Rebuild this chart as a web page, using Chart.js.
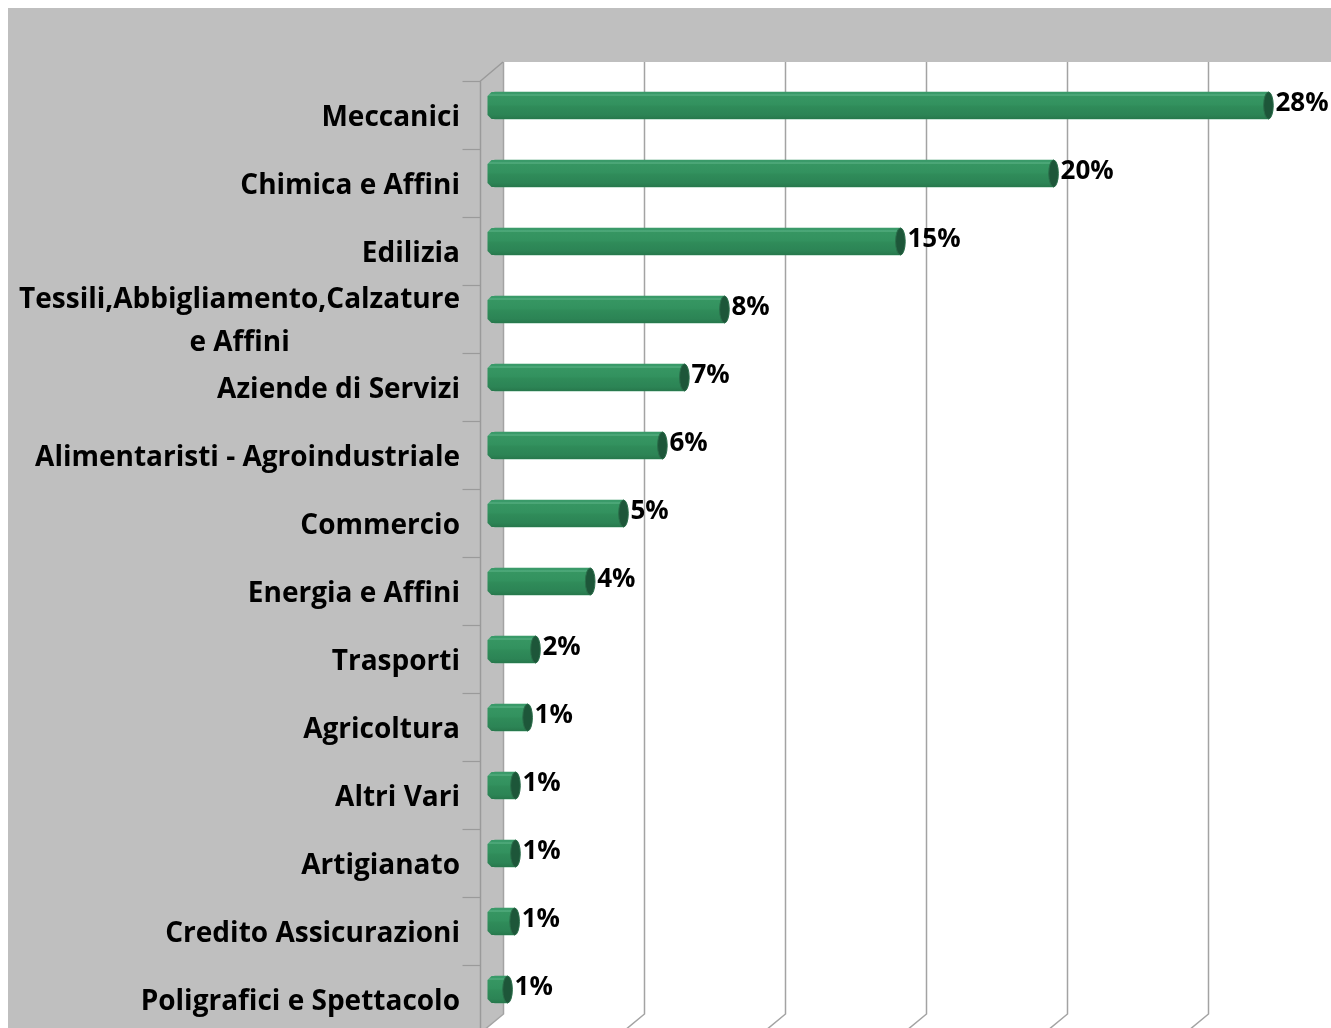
<!DOCTYPE html>
<html><head><meta charset="utf-8">
<script src="https://cdn.jsdelivr.net/npm/chart.js@4.4.1/dist/chart.umd.min.js"></script>
<style>html,body{margin:0;padding:0;background:#fff}#wrap{width:1331px;height:1028px;position:relative}</style>
</head><body><div id="wrap"><canvas id="c" width="1331" height="1028"></canvas></div>
<script>
const categories = [["Meccanici"], ["Chimica e Affini"], ["Edilizia"], ["Tessili,Abbigliamento,Calzature", "e Affini"], ["Aziende di Servizi"], ["Alimentaristi - Agroindustriale"], ["Commercio"], ["Energia e Affini"], ["Trasporti"], ["Agricoltura"], ["Altri Vari"], ["Artigianato"], ["Credito Assicurazioni"], ["Poligrafici e Spettacolo"]];
const shares = [27.55, 19.93, 14.5, 8.26, 6.84, 6.06, 4.68, 3.5, 1.56, 1.28, 0.85, 0.85, 0.82, 0.57];
const shareLabels = ["28%", "20%", "15%", "8%", "7%", "6%", "5%", "4%", "2%", "1%", "1%", "1%", "1%", "1%"];
const gridValues = [0, 5, 10, 15, 20, 25];

const W = 1331, H = 1028;
const DX = 23, DY = 19;          // depth: back wall -> front plane
const BX = -11.5, BY = 9.5;      // bars sit mid-depth
const FONT = '"Open Sans", Lato, sans-serif';

function barGradient(ctx, yc, h) {
  const g = ctx.createLinearGradient(0, yc - h / 2, 0, yc + h / 2);
  g.addColorStop(0, '#3a9a69');
  g.addColorStop(0.08, '#3a9a69');
  g.addColorStop(0.11, '#5fb58a');
  g.addColorStop(0.15, '#369662');
  g.addColorStop(0.45, '#33925f');
  g.addColorStop(0.55, '#2f8b59');
  g.addColorStop(0.85, '#2c8455');
  g.addColorStop(1, '#27784c');
  return g;
}

const deco = {
  id: 'deco',
  beforeDraw(chart) {
    const ctx = chart.ctx, a = chart.chartArea, xs = chart.scales.x, ys = chart.scales.y;
    ctx.save();
    ctx.fillStyle = '#ffffff'; ctx.fillRect(0, 0, W, H);
    ctx.fillStyle = '#bfbfbf'; ctx.fillRect(8, 8, W - 8, H - 8);
    // back wall
    ctx.fillStyle = '#ffffff'; ctx.fillRect(a.left, a.top, W - a.left, a.bottom - a.top);
    // floor
    const fl = a.left - (H - a.bottom) * DX / DY;
    ctx.beginPath(); ctx.moveTo(a.left, a.bottom); ctx.lineTo(W, a.bottom); ctx.lineTo(W, H); ctx.lineTo(fl, H); ctx.closePath(); ctx.fill();
    // gridlines on back wall + floor
    ctx.strokeStyle = '#a3a3a3'; ctx.lineWidth = 1.5;
    gridValues.forEach(v => {
      const x = Math.round(xs.getPixelForValue(v)) + 0.5;
      ctx.beginPath(); ctx.moveTo(x, a.top); ctx.lineTo(x, a.bottom); ctx.lineTo(x - DX * 1.2, a.bottom + DY * 1.2); ctx.stroke();
    });
    // left wall front edge + top diagonal
    const fx = Math.round(a.left - DX) + 0.5;
    ctx.strokeStyle = '#9a9a9a'; ctx.lineWidth = 1.5;
    ctx.beginPath(); ctx.moveTo(a.left, a.top); ctx.lineTo(fx, a.top + DY); ctx.lineTo(fx, H); ctx.stroke();
    // tick marks on front edge at category boundaries
    const step = ys.getPixelForValue(1) - ys.getPixelForValue(0);
    ctx.lineWidth = 1.2;
    for (let i = 0; i < categories.length; i++) {
      const y = Math.round(ys.getPixelForValue(i) - step / 2 + DY) + 0.5;
      ctx.beginPath(); ctx.moveTo(fx - 18, y); ctx.lineTo(fx, y); ctx.stroke();
    }
    // category labels
    ctx.fillStyle = '#000'; ctx.font = 'bold 28px ' + FONT; ctx.textBaseline = 'middle'; ctx.textAlign = 'center';
    categories.forEach((lines, i) => {
      const yc = ys.getPixelForValue(i) + DY + 3;
      const maxW = Math.max(...lines.map(l => ctx.measureText(l).width));
      const cx = 460 - maxW / 2;
      const lh = 43;
      lines.forEach((l, k) => ctx.fillText(l, cx, yc - (lines.length - 1) * lh / 2 + k * lh));
    });
    ctx.restore();
  },
  beforeDatasetsDraw(chart) {
    chart.ctx.save();
    chart.ctx.translate(BX, BY);
  },
  afterDatasetsDraw(chart) {
    const ctx = chart.ctx;
    const meta = chart.getDatasetMeta(0);
    meta.data.forEach((el, i) => {
      const h = el.height, top = el.y - h / 2, bot = el.y + h / 2;
      const left = el.base - 4, right = el.x, c = 4;
      // shaded body following the bar element geometry
      ctx.beginPath();
      ctx.moveTo(left + c, top); ctx.lineTo(right, top); ctx.lineTo(right, bot);
      ctx.lineTo(left + c, bot); ctx.lineTo(left, bot - c); ctx.lineTo(left, top + c); ctx.closePath();
      ctx.fillStyle = barGradient(ctx, el.y, h); ctx.fill();
      // end cap
      ctx.beginPath();
      ctx.ellipse(el.x, el.y, 4.8, h / 2, 0, 0, Math.PI * 2);
      ctx.fillStyle = '#1d5639'; ctx.fill();
      ctx.strokeStyle = '#2a6e4a'; ctx.lineWidth = 1; ctx.stroke();
      // value label
      ctx.fillStyle = '#000'; ctx.font = 'bold 26px ' + FONT;
      ctx.textAlign = 'left'; ctx.textBaseline = 'middle';
      ctx.fillText(shareLabels[i], el.x + 7, el.y - 2);
    });
    ctx.restore();
  }
};

new Chart(document.getElementById('c'), {
  type: 'bar',
  data: {
    labels: categories,
    datasets: [{
      data: shares,
      barThickness: 27,
      borderSkipped: false,
      borderWidth: 0,
      borderRadius: { topLeft: 4, bottomLeft: 4, topRight: 0, bottomRight: 0 },
      backgroundColor: '#33925f'
    }]
  },
  options: {
    indexAxis: 'y',
    responsive: false,
    animation: false,
    devicePixelRatio: 1,
    layout: { padding: { left: 503, top: 62, right: 0, bottom: 14 } },
    plugins: { legend: { display: false }, tooltip: { enabled: false } },
    scales: {
      x: { display: false, min: 0, max: 29.36, ticks: { stepSize: 5 } },
      y: { display: false }
    }
  },
  plugins: [deco]
});
</script></body></html>
